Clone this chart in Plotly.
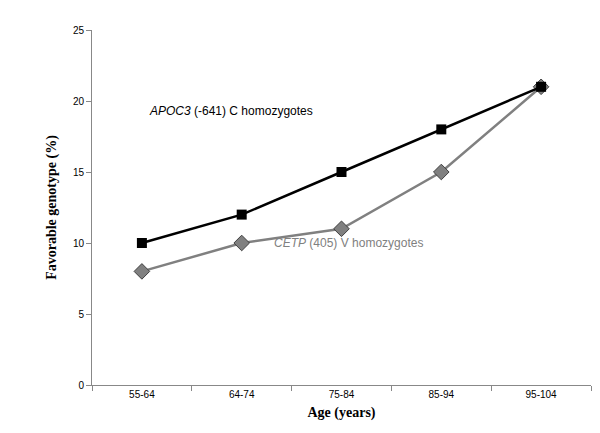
import plotly.graph_objects as go

ages = ["55-64", "64-74", "75-84", "85-94", "95-104"]
apoc3 = [10, 12, 15, 18, 21]
cetp = [8, 10, 11, 15, 21]

fig = go.Figure()
fig.add_trace(go.Scatter(x=ages, y=cetp, mode="lines+markers",
                         line=dict(color="#808080", width=2.5),
                         marker=dict(symbol="diamond", size=12, color="#808080",
                                     line=dict(color="#404040", width=1))))
fig.add_trace(go.Scatter(x=ages, y=apoc3, mode="lines+markers",
                         line=dict(color="black", width=2.5),
                         marker=dict(symbol="square", size=10, color="black")))

fig.add_annotation(x=0.05, y=19.3, xref="x", yref="y", xanchor="left", showarrow=False,
                   text="<i>APOC3</i> (-641) C homozygotes",
                   font=dict(family="Liberation Sans", size=12, color="black"))
fig.add_annotation(x=1.3, y=10, xref="x", yref="y", xanchor="left", showarrow=False,
                   text="<i>CETP</i> (405) V homozygotes",
                   font=dict(family="Liberation Sans", size=12, color="#808080"))

fig.update_layout(
    width=600, height=433, showlegend=False,
    plot_bgcolor="white", paper_bgcolor="white",
    margin=dict(l=84, r=17, t=22, b=56),
    font=dict(family="Liberation Sans", size=10, color="black"),
    xaxis=dict(title=dict(text="<b>Age (years)</b>", standoff=8,
                          font=dict(family="Liberation Serif", size=14)),
               showline=True, linecolor="#888", ticks="outside", tickson="boundaries",
               tickcolor="#888", ticklen=5, showgrid=False, range=[-0.5, 4.5]),
    yaxis=dict(title=dict(text="<b>Favorable genotype (%)</b>", standoff=12,
                          font=dict(family="Liberation Serif", size=14)),
               range=[0, 25], dtick=5, showline=True, linecolor="#888",
               ticks="outside", tickcolor="#888", ticklen=5, showgrid=False,
               zeroline=False),
)
fig.write_html("out.html")
